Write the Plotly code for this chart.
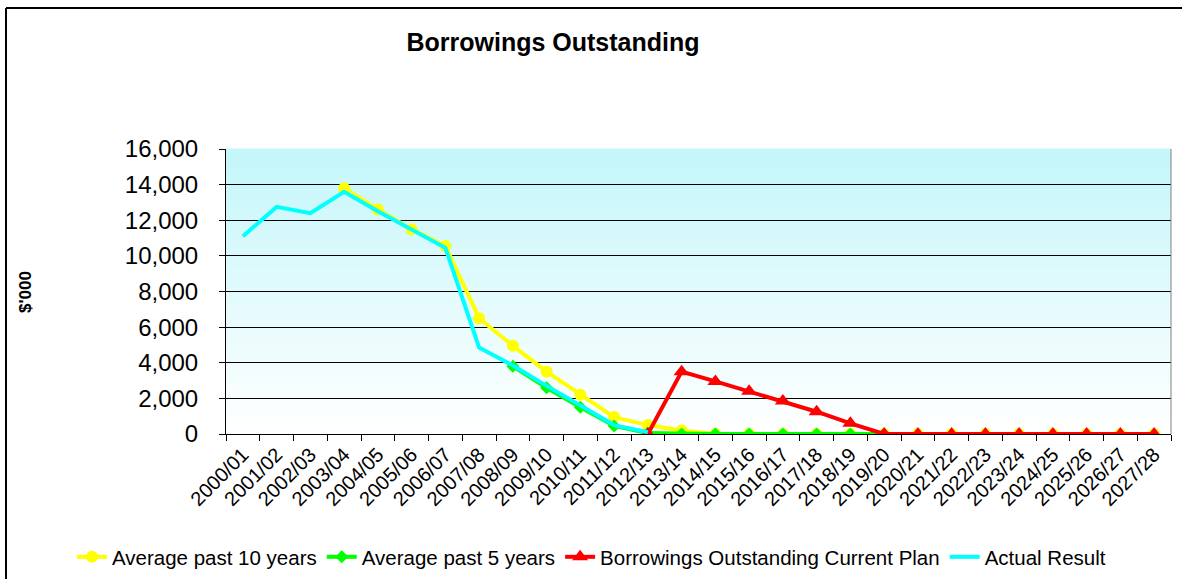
import plotly.graph_objects as go

years = ["2000/01","2001/02","2002/03","2003/04","2004/05","2005/06","2006/07","2007/08",
         "2008/09","2009/10","2010/11","2011/12","2012/13","2013/14","2014/15","2015/16",
         "2016/17","2017/18","2018/19","2019/20","2020/21","2021/22","2022/23","2023/24",
         "2024/25","2025/26","2026/27","2027/28"]

avg10_years = years[3:]
avg10 = [13800, 12600, 11500, 10550, 6500, 4950, 3500, 2200, 950, 500, 200,
         0, 0, 0, 0, 0, 0, 0, 0, 0, 0, 0, 0, 0, 0]

avg5_years = years[8:20]
avg5 = [3800, 2600, 1500, 450, 50, 0, 0, 0, 0, 0, 0, 0]

plan_years = years[12:]
plan = [0, 3500, 2950, 2400, 1850, 1250, 600, 0, 0, 0, 0, 0, 0, 0, 0, 0]

actual_years = years[:13]
actual = [11100, 12750, 12400, 13600, 12500, 11500, 10450, 4850, 3850, 2700, 1600, 500, 100]

W, H = 1182, 579
L, R, T, B = 226, 1171, 149, 434


def px_x(p):
    return (p - L) / (R - L)


def px_y(p):
    return (B - p) / (B - T)


fig = go.Figure()
fig.add_trace(go.Scatter(x=avg10_years, y=avg10, name="Average past 10 years", mode="lines+markers",
                         line=dict(color="#FFFF00", width=4),
                         marker=dict(symbol="circle", size=12, color="#FFFF00")))
fig.add_trace(go.Scatter(x=avg5_years, y=avg5, name="Average past 5 years", mode="lines+markers",
                         line=dict(color="#00FF00", width=4),
                         marker=dict(symbol="diamond", size=10, color="#00FF00")))
fig.add_trace(go.Scatter(x=plan_years, y=plan, name="Borrowings Outstanding Current Plan", mode="lines+markers",
                         line=dict(color="#FF0000", width=4),
                         marker=dict(symbol="triangle-up", size=14, color="#FF0000")))
fig.add_trace(go.Scatter(x=actual_years, y=actual, name="Actual Result", mode="lines",
                         line=dict(color="#00FFFF", width=4)))

shapes = []
n = 57
top = (196, 246, 250)
for i in range(n):
    f = i / (n - 1)
    c = tuple(int(round(top[k] + (255 - top[k]) * f)) for k in range(3))
    shapes.append(dict(type="rect", xref="x domain", yref="y domain", x0=0, x1=1,
                       y0=1 - (i + 1) / n, y1=1 - i / n + 0.002, layer="below",
                       line=dict(width=0), fillcolor="rgb(%d,%d,%d)" % c))
# plot area right border
shapes.append(dict(type="line", xref="paper", yref="paper", x0=1, x1=1, y0=0, y1=1,
                   line=dict(color="#808080", width=1)))
# outer chart border (left & top)
shapes.append(dict(type="line", xref="paper", yref="paper", x0=px_x(6), x1=px_x(6), y0=px_y(8), y1=px_y(600),
                   line=dict(color="black", width=2)))
shapes.append(dict(type="line", xref="paper", yref="paper", x0=px_x(6), x1=px_x(1200), y0=px_y(8), y1=px_y(8),
                   line=dict(color="black", width=2)))

fig.update_layout(
    width=W, height=H,
    margin=dict(l=L, r=W - R, t=T, b=H - B, pad=0, autoexpand=False),
    paper_bgcolor="white", plot_bgcolor="white",
    font=dict(family="Arial, Liberation Sans, sans-serif", color="black"),
    title=dict(text="<b>Borrowings Outstanding</b>", x=553 / W, xanchor="center",
               y=1 - 42 / H, yanchor="middle", font=dict(size=25, color="black")),
    shapes=shapes,
    showlegend=True,
    legend=dict(orientation="h", x=px_x(72), xanchor="left", y=px_y(557), yanchor="middle",
                font=dict(size=20.5), bgcolor="rgba(0,0,0,0)", traceorder="normal"),
    annotations=[dict(text="<b>$'000</b>", textangle=-90, x=px_x(25), y=px_y(292), xref="paper", yref="paper",
                      showarrow=False, font=dict(size=17, color="black"), xanchor="center", yanchor="middle")],
)

fig.update_xaxes(type="category", categoryorder="array", categoryarray=years,
                 range=[-0.5, len(years) - 0.5], automargin=False,
                 tickangle=-45, tickfont=dict(size=20), tickson="boundaries",
                 ticks="outside", ticklen=6, tickcolor="black",
                 showline=True, linecolor="black", linewidth=1, showgrid=False, zeroline=False)
fig.update_yaxes(range=[0, 16000], dtick=2000, tickformat=",", tickfont=dict(size=24),
                 automargin=False, ticklabelstandoff=16,
                 ticks="outside", ticklen=6, tickcolor="black",
                 showline=True, linecolor="black", linewidth=1,
                 showgrid=True, gridcolor="black", gridwidth=1, zeroline=False)

fig.write_html("out.html")
